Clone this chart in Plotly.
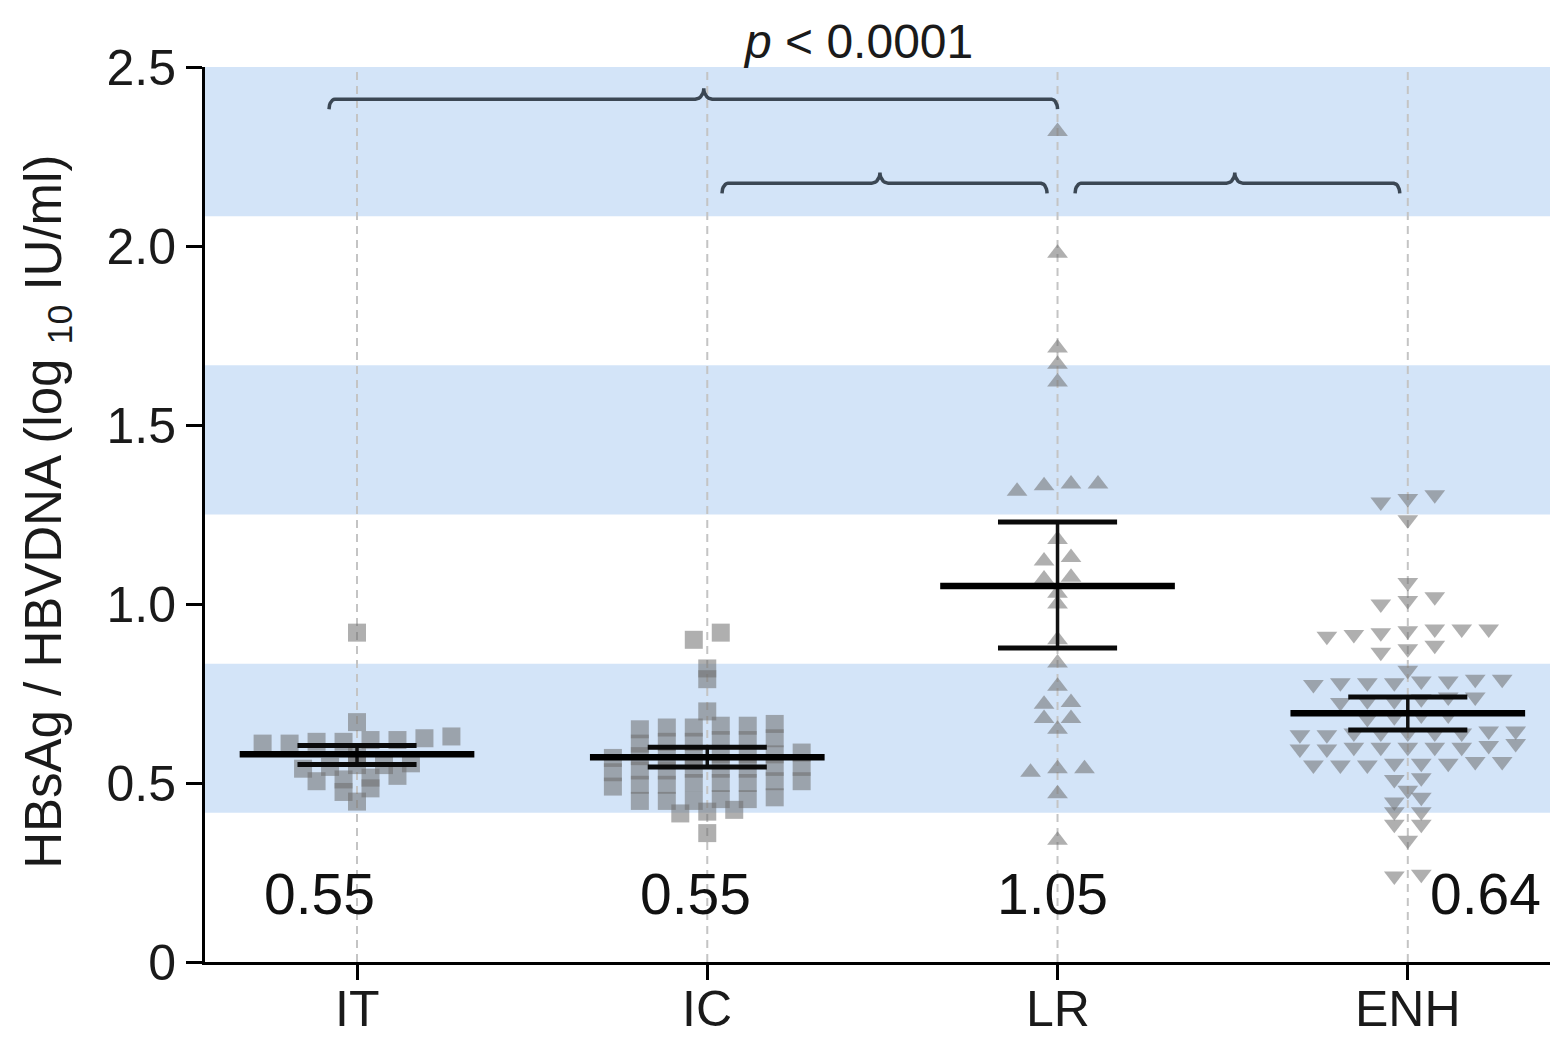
import numpy as np
import plotly.graph_objects as go

# ---------------------------------------------------------------
# Data: HBsAg / HBV DNA ratio (log10 IU/ml) per clinical phase
# ---------------------------------------------------------------
groups = ["IT", "IC", "LR", "ENH"]

it_vals = [0.92, 0.67,
           0.63, 0.625, 0.62, 0.62, 0.615, 0.615, 0.61, 0.61,
           0.58,
           0.555, 0.55, 0.55, 0.545, 0.54,
           0.52, 0.515, 0.51, 0.505,
           0.485, 0.475,
           0.448]

ic_vals = [0.92, 0.90, 0.82, 0.79, 0.70,
           0.665, 0.66, 0.655, 0.65, 0.66, 0.655,
           0.625, 0.62, 0.615, 0.615, 0.62, 0.61,
           0.585, 0.58, 0.575, 0.575, 0.58, 0.57, 0.575, 0.58,
           0.545, 0.54, 0.535, 0.535, 0.54, 0.53, 0.545, 0.54,
           0.505, 0.50, 0.495, 0.495, 0.50, 0.49, 0.505, 0.50,
           0.46, 0.455, 0.45, 0.45, 0.455, 0.45,
           0.425, 0.42, 0.415,
           0.36]

lr_vals = [2.32, 1.98, 1.715, 1.67, 1.62,
           1.335, 1.335, 1.33, 1.315,
           1.18, 1.13, 1.12, 1.075, 1.07, 1.03, 1.00,
           0.90, 0.835, 0.77, 0.725, 0.72, 0.68, 0.68, 0.65,
           0.54, 0.54, 0.53, 0.47, 0.34]

enh_vals = [1.285, 1.295, 1.305,
            1.235, 1.06,
            1.00, 1.01, 1.02,
            0.91, 0.915, 0.92, 0.925, 0.93, 0.93, 0.93,
            0.865, 0.875, 0.885,
            0.815,
            0.775, 0.78, 0.78, 0.78, 0.785, 0.785, 0.79, 0.79,
            0.725, 0.73, 0.73, 0.735, 0.74, 0.74,
            0.68, 0.685, 0.69, 0.69,
            0.635, 0.635, 0.64, 0.64, 0.64, 0.64, 0.64, 0.645, 0.645,
            0.595, 0.595, 0.60, 0.60, 0.60, 0.60, 0.60, 0.605, 0.61,
            0.55, 0.55, 0.55, 0.555, 0.555, 0.555, 0.56, 0.56,
            0.51, 0.515, 0.48, 0.447, 0.46,
            0.42, 0.42, 0.385, 0.385, 0.34, 0.24, 0.245]

# Mean with error bar limits, and the median printed under each group
group_means = [0.58, 0.572, 1.05, 0.695]
group_err_low = [0.552, 0.545, 0.877, 0.648]
group_err_high = [0.605, 0.600, 1.229, 0.740]
median_labels = ["0.55", "0.55", "1.05", "0.64"]

y_tick_vals = [0, 0.5, 1.0, 1.5, 2.0, 2.5]
y_tick_text = ["0", "0.5", "1.0", "1.5", "2.0", "2.5"]

p_value_text = "<i>p</i> < 0.0001"

# ---------------------------------------------------------------
# Styling
# ---------------------------------------------------------------
FONT = "Liberation Sans, Arial, sans-serif"
POINT_COLOR = "rgba(110,110,110,0.55)"
BAND_COLOR = "#d3e4f8"
BRACE_COLOR = "#3b4754"
Y_MAX = 2.5
X_RANGE = [-0.434, 3.406]
SWARM_STEP = 0.077      # horizontal spacing between neighbouring dots
ROW_HEIGHT = 0.025      # values closer than this share a row
MEAN_HALF = 0.335
ERR_HALF = 0.17


def swarm_offsets(values, row_height=ROW_HEIGHT, step=SWARM_STEP):
    """Spread dots of similar value side by side, centred on the group."""
    v = np.asarray(values, dtype=float)
    order = np.argsort(v, kind="stable")
    sv = v[order]
    offs = np.zeros(len(sv))
    start = 0
    while start < len(sv):
        end = start + 1
        while end < len(sv) and sv[end] - sv[start] < row_height - 1e-9:
            end += 1
        n = end - start
        offs[start:end] = (np.arange(n) - (n - 1) / 2.0) * step
        start = end
    out = np.empty(len(sv))
    out[order] = offs
    return out


def brace_path(x0, x1, xm, y, hook=0.028, r=0.017, cusp=0.03, cw=0.024):
    """Horizontal curly brace with ends hooked down and a cusp pointing up."""
    t = np.linspace(0, np.pi / 2, 8)
    xs, ys = [], []
    xs += list(x0 + r * (1 - np.cos(t)))
    ys += list(y - hook + hook * np.sin(t))
    xs += list(xm - cw + cw * np.sin(t))
    ys += list(y + cusp * (1 - np.cos(t)))
    xs += list(xm + cw - cw * np.sin(t[::-1]))
    ys += list(y + cusp * (1 - np.cos(t[::-1])))
    xs += list(x1 - r * (1 - np.cos(t[::-1])))
    ys += list(y - hook + hook * np.sin(t[::-1]))
    return xs, ys


fig = go.Figure()

# Alternating background bands and dashed guide lines
band_h = Y_MAX / 6
shapes = []
for k in range(3):
    shapes.append(dict(type="rect", xref="x domain", yref="y",
                       x0=0, x1=1, y0=(2 * k + 1) * band_h, y1=(2 * k + 2) * band_h,
                       fillcolor=BAND_COLOR, line=dict(width=0), layer="below"))
for i in range(len(groups)):
    shapes.append(dict(type="line", xref="x", yref="y", x0=i, x1=i, y0=0, y1=Y_MAX,
                       line=dict(color="#c4c4c4", width=2, dash="8px,6px"), layer="below"))

# Dots
symbols = ["square", "square", "triangle-up", "triangle-down"]
sizes = [18, 18, 18, 18]
for i, vals in enumerate([it_vals, ic_vals, lr_vals, enh_vals]):
    xs = i + swarm_offsets(vals)
    fig.add_trace(go.Scatter(
        x=xs, y=vals, mode="markers",
        marker=dict(symbol=symbols[i], size=sizes[i], color=POINT_COLOR,
                    line=dict(width=0)),
        showlegend=False, hoverinfo="y"))

# Mean and error bars
for i in range(len(groups)):
    fig.add_trace(go.Scatter(
        x=[i, i], y=[group_err_low[i], group_err_high[i]], mode="lines",
        line=dict(color="#111111", width=3.5), showlegend=False, hoverinfo="skip"))
    for yv in (group_err_low[i], group_err_high[i]):
        fig.add_trace(go.Scatter(
            x=[i - ERR_HALF, i + ERR_HALF], y=[yv, yv], mode="lines",
            line=dict(color="#0a0a0a", width=5), showlegend=False, hoverinfo="skip"))
    fig.add_trace(go.Scatter(
        x=[i - MEAN_HALF, i + MEAN_HALF], y=[group_means[i], group_means[i]], mode="lines",
        line=dict(color="#000000", width=6.5), showlegend=False, hoverinfo="skip"))

# Comparison braces
brace_specs = [(-0.08, 2.0, 0.99, 2.41), (1.042, 1.97, 1.493, 2.175), (2.05, 2.977, 2.506, 2.175)]
for x0, x1, xm, yb in brace_specs:
    bx, by = brace_path(x0, x1, xm, yb)
    fig.add_trace(go.Scatter(x=bx, y=by, mode="lines",
                             line=dict(color=BRACE_COLOR, width=3.5),
                             showlegend=False, hoverinfo="skip"))

annotations = []
annotations.append(dict(x=1.43, y=Y_MAX, xref="x", yref="y", text=p_value_text,
                        showarrow=False, yanchor="middle", yshift=26,
                        font=dict(family=FONT, size=48, color="#1a1a1a")))

label_shift = [-38, -12, -5, 78]
for i, lab in enumerate(median_labels):
    annotations.append(dict(x=i, y=0.19, xref="x", yref="y", text=lab,
                            showarrow=False, xshift=label_shift[i],
                            font=dict(family=FONT, size=57, color="#111111")))

# Category names under the axis
for i, name in enumerate(groups):
    annotations.append(dict(x=i, y=0, xref="x", yref="paper", text=name,
                            showarrow=False, yanchor="middle", yshift=-47,
                            font=dict(family=FONT, size=50, color="#1a1a1a")))

annotations.append(dict(x=0, y=0.503, xref="paper", yref="paper",
                        text="HBsAg / HBVDNA (log <sub>10</sub> IU/ml)",
                        textangle=-90, showarrow=False, xanchor="center", yanchor="middle",
                        xshift=-157, font=dict(family=FONT, size=51, color="#1a1a1a")))

fig.update_layout(
    width=1568, height=1041,
    margin=dict(l=205, r=18, t=67, b=79, autoexpand=False),
    plot_bgcolor="white", paper_bgcolor="white",
    shapes=shapes, annotations=annotations,
    showlegend=False,
    font=dict(family=FONT, color="#1a1a1a"),
)
fig.update_xaxes(range=X_RANGE, tickvals=list(range(len(groups))), showticklabels=False,
                 automargin=False,
                 showgrid=False, zeroline=False, showline=True, linecolor="#000",
                 linewidth=3, ticks="outside", ticklen=15, tickwidth=3, tickcolor="#000")
fig.update_yaxes(range=[0, Y_MAX], tickvals=y_tick_vals, ticktext=y_tick_text,
                 automargin=False,
                 showgrid=False, zeroline=False, showline=True, linecolor="#000",
                 linewidth=3, ticks="outside", ticklen=16, tickwidth=3, tickcolor="#000",
                 tickfont=dict(family=FONT, size=50, color="#1a1a1a"))

fig.write_html("out.html")
